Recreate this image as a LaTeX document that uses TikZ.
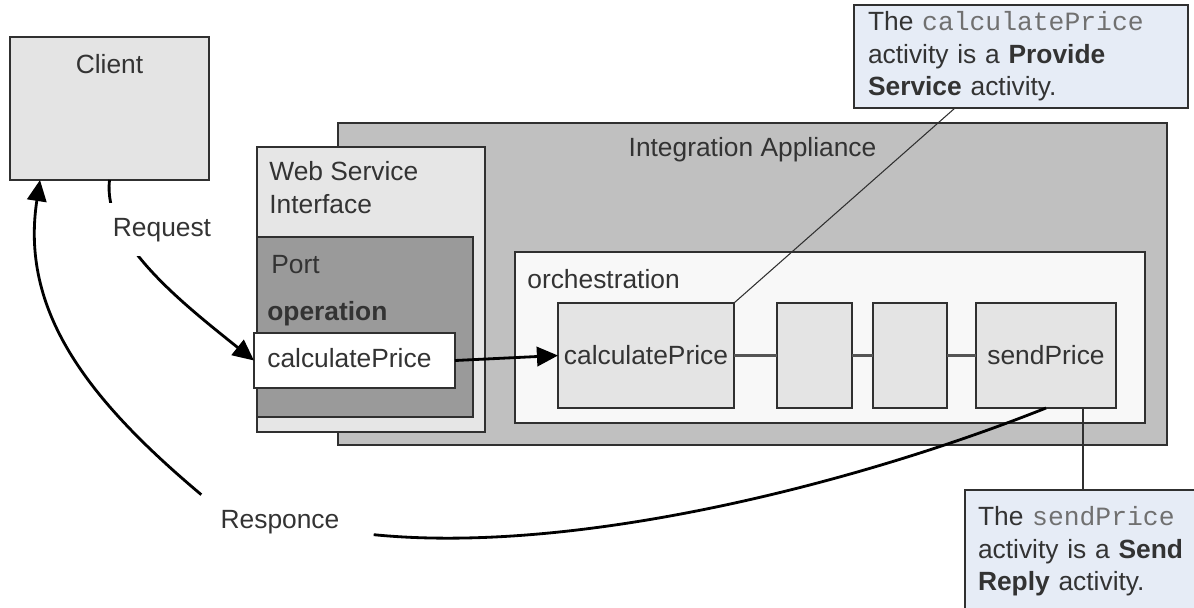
\documentclass[tikz,border=0pt]{standalone}
\usepackage{fontspec}
\setmainfont{Liberation Sans}
\setmonofont{Liberation Mono}
\usepackage{xcolor}
\usetikzlibrary{arrows.meta,positioning}

\definecolor{boxline}{HTML}{303030}
\definecolor{textgray}{HTML}{333333}
\definecolor{monogray}{HTML}{707070}
\definecolor{clientfill}{HTML}{E4E4E4}
\definecolor{iafill}{HTML}{C0C0C0}
\definecolor{wsifill}{HTML}{E6E6E6}
\definecolor{portfill}{HTML}{9A9A9A}
\definecolor{orchfill}{HTML}{F8F8F8}
\definecolor{actfill}{HTML}{E4E4E4}
\definecolor{notefill}{HTML}{E6ECF6}
\definecolor{linkgray}{HTML}{555555}

\begin{document}
\begin{tikzpicture}[
    font=\fontsize{15}{18.5}\selectfont,
    mybox/.style={draw=boxline, line width=1pt, inner sep=0pt, outer sep=0pt, anchor=north west},
    mytext/.style={text=textgray, inner sep=0pt, align=left},
    mynote/.style={draw=boxline, line width=1pt, fill=notefill, anchor=north west, align=left,
        text=textgray, outer sep=0pt},
    myedge/.style={-{Triangle[length=12pt,width=11pt]}, line width=1.6pt, draw=black},
    mylink/.style={line width=1.2pt, draw=linkgray},
    myleader/.style={line width=0.6pt, draw=boxline}
]
\useasboundingbox (0,0) rectangle (23.88,-12.14);
\clip (0,0) rectangle (23.88,-12.14);

% client and appliance
\node[mybox, fill=clientfill, minimum width=3.98cm, minimum height=2.86cm] (client) at (0.2,-0.74) {};
\node[mytext, anchor=base] (clienttxt) at ([yshift=-0.72cm]client.north) {Client};

\node[mybox, fill=iafill, minimum width=16.58cm, minimum height=6.44cm] (ia) at (6.76,-2.46) {};
\node[mytext, anchor=base] (iatxt) at ([yshift=-0.66cm]ia.north) {Integration Appliance};

% web service interface
\node[mybox, fill=wsifill, minimum width=4.56cm, minimum height=5.7cm] (wsi) at (5.14,-2.94) {};
\node[mytext, anchor=base west] (wsitxt) at ([shift={(0.24,-1.32)}]wsi.north west) {Web Service\\Interface};

\node[mybox, fill=portfill, minimum width=4.32cm, minimum height=3.6cm] (port) at (5.14,-4.74) {};
\node[mytext, anchor=base west] (porttxt) at ([shift={(0.28,-0.72)}]port.north west) {Port};
\node[mytext, anchor=base west] (opertxt) at ([shift={(0.2,-1.66)}]port.north west) {\textbf{operation}};

\node[mybox, fill=white, minimum width=4.02cm, minimum height=1.1cm] (op) at (5.08,-6.66) {};
\node[mytext, anchor=base west] (optxt) at ([shift={(0.26,-0.68)}]op.north west) {calculatePrice};

% orchestration
\node[mybox, fill=orchfill, minimum width=12.6cm, minimum height=3.42cm] (orch) at (10.3,-5.04) {};
\node[mytext, anchor=base west] (orchtxt) at ([shift={(0.24,-0.72)}]orch.north west) {orchestration};

\node[mybox, fill=actfill, minimum width=3.52cm, minimum height=2.1cm] (act1) at (11.16,-6.06) {};
\node[mybox, fill=actfill, minimum width=1.5cm, minimum height=2.1cm] (act2) at (15.54,-6.06) {};
\node[mybox, fill=actfill, minimum width=1.48cm, minimum height=2.1cm] (act3) at (17.46,-6.06) {};
\node[mybox, fill=actfill, minimum width=2.8cm, minimum height=2.1cm] (send) at (19.52,-6.06) {};
\node[mytext] (act1txt) at (act1.center) {calculatePrice};
\node[mytext] (sendtxt) at (send.center) {sendPrice};

\draw[mylink] (act1.east) -- (act2.west);
\draw[mylink] (act2.east) -- (act3.west);
\draw[mylink] (act3.east) -- (send.west);

% callouts
\node[mynote, inner xsep=0.28cm, text width=6.12cm, minimum height=2.06cm] (note1) at (17.08,-0.1)
    {The \textcolor{monogray}{\texttt{calculatePrice}}\\activity is a \textbf{Provide}\\\textbf{Service} activity.};
\node[mynote, inner xsep=0.26cm, text width=4.48cm, inner ysep=0.33cm] (note2) at (19.3,-9.8)
    {The \textcolor{monogray}{\texttt{sendPrice}}\\activity is a \textbf{Send}\\\textbf{Reply} activity.};

\draw[myleader] ([xshift=-1.32cm]note1.south) -- (act1.north east);
\draw[myleader] ([xshift=0.74cm]send.south) -- ([xshift=0.74cm]send.south |- note2.north);

% request and response
\draw[myedge] (client.south) .. controls +(-0.14,-1.2) and +(-1.5,1.2) .. (op.west);
\node[mytext, anchor=base, fill=white, inner sep=0.3cm] (req) at (3.24,-4.72) {Request};
\draw[myedge] (op.east) -- (act1.west);

\node[mytext, anchor=base] (resp) at (5.6,-10.56) {Responce};
\draw[line width=1.6pt] (send.south) .. controls +(-3.9,-1.55) and +(4,-0.4) .. ([shift={(0.68,-0.26)}]resp.east);
\draw[myedge] ([shift={(-0.38,0.54)}]resp.west) .. controls +(-2.3,1.93) and +(-0.4,-2.6) .. ([xshift=0.6cm]client.south west);
\end{tikzpicture}
\end{document}
